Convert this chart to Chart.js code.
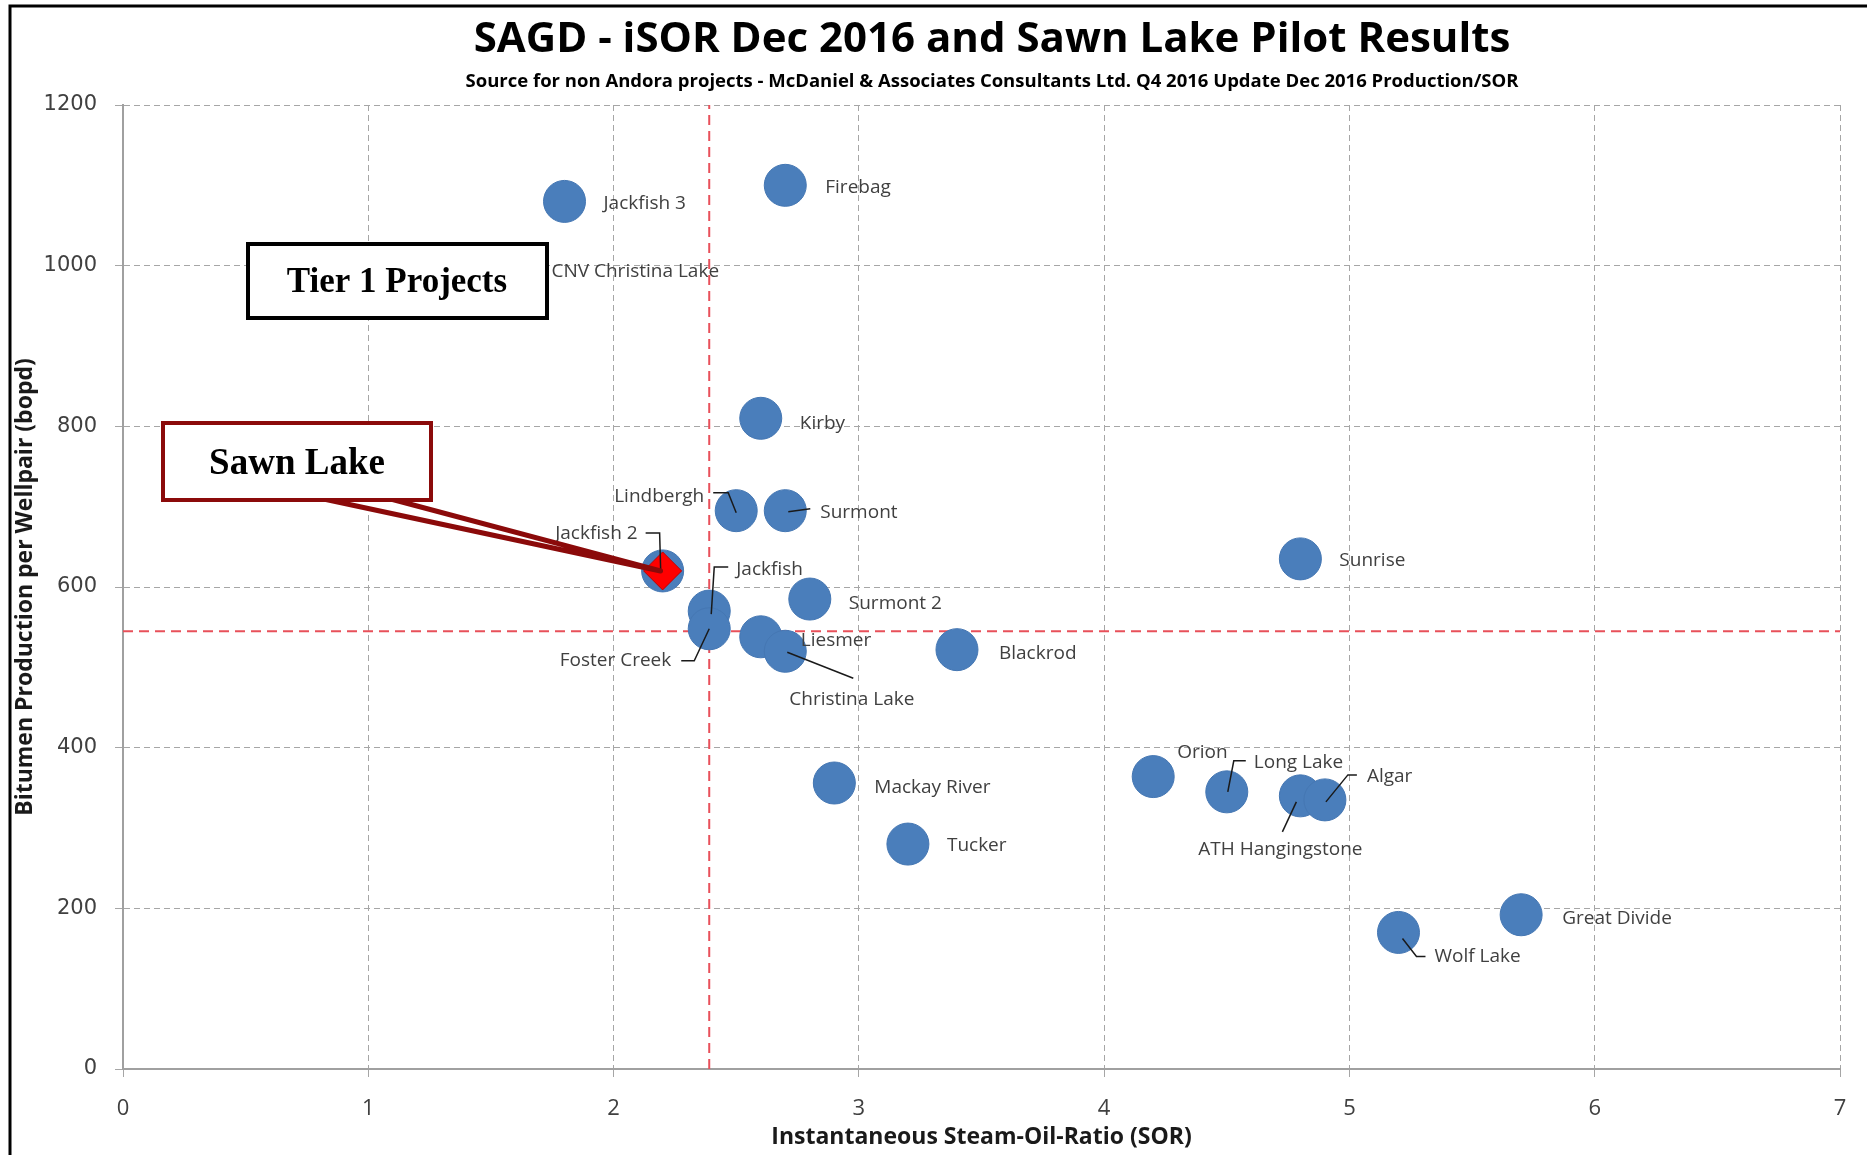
<!DOCTYPE html>
<html lang="en">
<head>
<meta charset="UTF-8">
<title>SAGD - iSOR Dec 2016 and Sawn Lake Pilot Results</title>
<script src="https://cdn.jsdelivr.net/npm/chart.js"></script>
<style>
  html, body { margin: 0; padding: 0; background: #fff; }
  canvas { display: block; }
</style>
</head>
<body>
<canvas id="sorChart" width="1867" height="1155"></canvas>
<script>
// project data
const projectNames = ['Jackfish 3', 'Firebag', 'CNV Christina Lake', 'Kirby', 'Lindbergh', 'Surmont',
  'Jackfish 2', 'Sunrise', 'Jackfish', 'Surmont 2', 'Foster Creek', 'Liesmer', 'Christina Lake',
  'Blackrod', 'Mackay River', 'Tucker', 'Orion', 'Long Lake', 'ATH Hangingstone', 'Algar',
  'Great Divide', 'Wolf Lake'];
const sorValues = [1.8, 2.7, 1.6, 2.6, 2.5, 2.7, 2.2, 4.8, 2.39, 2.8, 2.39, 2.6, 2.7,
  3.4, 2.9, 3.2, 4.2, 4.5, 4.8, 4.9, 5.7, 5.2];
const prodValues = [1080, 1100, 990, 810, 695, 695, 620, 635, 570, 585, 548, 538, 520,
  522, 356, 280, 364, 345, 340, 335, 192, 170];

const sawnLakeSor = [2.2];
const sawnLakeProd = [620];

// red dashed cut-off lines
const cutoffSor = 2.39;
const cutoffProd = 545;

const xRange = [0, 7];
const yRange = [0, 1200];

// where each data label sits relative to its bubble (px), plus leader lines
const labelLayout = {
  'Jackfish 3': { dx: 39, dy: 2 },
  'Firebag': { dx: 40, dy: 2 },
  'CNV Christina Lake': { dx: 36, dy: -2 },
  'Kirby': { dx: 39, dy: 5 },
  'Lindbergh': { dx: -32, dy: -14, align: 'right', leader: [[-23, -18], [-8, -18], [0, 2]] },
  'Surmont': { dx: 35, dy: 2, leader: [[25, -2], [3, 1]] },
  'Jackfish 2': { dx: -25, dy: -37, align: 'right', leader: [[-17, -38], [-3, -38], [-2, -2]] },
  'Sunrise': { dx: 39, dy: 2 },
  'Jackfish': { dx: 27, dy: -42, leader: [[19, -44], [5, -44], [2, 3]] },
  'Surmont 2': { dx: 39, dy: 5 },
  'Foster Creek': { dx: -38, dy: 32, align: 'right', leader: [[-28, 32], [-15, 32], [0, 0]] },
  'Liesmer': { dx: 40, dy: 4 },
  'Christina Lake': { dx: 4, dy: 48, leader: [[2, 1], [68, 27]] },
  'Blackrod': { dx: 42, dy: 4 },
  'Mackay River': { dx: 40, dy: 5 },
  'Tucker': { dx: 39, dy: 2 },
  'Orion': { dx: 24, dy: -24 },
  'Long Lake': { dx: 27, dy: -29, leader: [[19, -31], [7, -31], [1, 0]] },
  'ATH Hangingstone': { dx: -20, dy: 54, align: 'center', leader: [[-18, 36], [-4, 6]] },
  'Algar': { dx: 42, dy: -23, leader: [[32, -25], [23, -25], [1, 2]] },
  'Great Divide': { dx: 41, dy: 4 },
  'Wolf Lake': { dx: 36, dy: 24, leader: [[27, 24], [18, 24], [4, 6]] }
};

const projectPoints = projectNames.map((n, i) => ({ x: sorValues[i], y: prodValues[i] }));
const sawnPoints = sawnLakeSor.map((s, i) => ({ x: s, y: sawnLakeProd[i] }));

const labelFont = '19px "Open Sans"';
const gridGrey = '#a6a6a6';

const decorPlugin = {
  id: 'decor',
  beforeDraw(chart) {
    const ctx = chart.ctx;
    ctx.save();
    ctx.fillStyle = '#fff';
    ctx.fillRect(0, 0, chart.width, chart.height);
    ctx.restore();
  },
  afterDatasetsDraw(chart) {
    const ctx = chart.ctx;
    const meta = chart.getDatasetMeta(0);
    ctx.save();
    // leader lines + labels
    meta.data.forEach((pt, i) => {
      const name = projectNames[i];
      const lay = labelLayout[name];
      if (lay.leader) {
        ctx.beginPath();
        ctx.strokeStyle = '#1a1a1a';
        ctx.lineWidth = 1.5;
        lay.leader.forEach((p, k) => {
          if (k === 0) ctx.moveTo(pt.x + p[0], pt.y + p[1]);
          else ctx.lineTo(pt.x + p[0], pt.y + p[1]);
        });
        ctx.stroke();
      }
      ctx.font = labelFont;
      ctx.fillStyle = '#404040';
      ctx.textAlign = lay.align || 'left';
      ctx.textBaseline = 'middle';
      ctx.fillText(name, pt.x + lay.dx, pt.y + lay.dy);
    });

    // Sawn Lake callout
    const sx = chart.scales.x.getPixelForValue(sawnLakeSor[0]);
    const sy = chart.scales.y.getPixelForValue(sawnLakeProd[0]);
    ctx.beginPath();
    ctx.moveTo(319, 498);
    ctx.lineTo(sx - 2, sy);
    ctx.lineTo(387, 498);
    ctx.closePath();
    ctx.fillStyle = '#fff';
    ctx.fill();
    ctx.lineJoin = 'round';
    ctx.lineWidth = 5;
    ctx.strokeStyle = '#8b0a0a';
    ctx.stroke();

    // boxes
    ctx.lineJoin = 'miter';
    ctx.fillStyle = '#fff';
    ctx.fillRect(163, 423, 268, 77);
    ctx.strokeStyle = '#8b0a0a';
    ctx.lineWidth = 4;
    ctx.strokeRect(163, 423, 268, 77);
    ctx.fillRect(248, 244, 299, 74);
    ctx.strokeStyle = '#000';
    ctx.lineWidth = 4;
    ctx.strokeRect(248, 244, 299, 74);

    ctx.fillStyle = '#000';
    ctx.textAlign = 'center';
    ctx.textBaseline = 'middle';
    ctx.font = 'bold 37px "Liberation Serif"';
    ctx.fillText('Sawn Lake', 297, 464);
    ctx.font = 'bold 35px "Liberation Serif"';
    ctx.fillText('Tier 1 Projects', 397, 283);

    // titles
    ctx.fillStyle = '#000';
    ctx.font = 'bold 42px "Open Sans"';
    ctx.fillText('SAGD - iSOR Dec 2016 and Sawn Lake Pilot Results', 992, 40);
    ctx.font = 'bold 18.5px "Open Sans"';
    ctx.fillText('Source for non Andora projects - McDaniel & Associates Consultants Ltd. Q4 2016 Update Dec 2016 Production/SOR', 992, 82);

    // outer frame
    ctx.strokeStyle = '#000';
    ctx.lineWidth = 3;
    ctx.beginPath();
    ctx.moveTo(10, 1155);
    ctx.lineTo(10, 6);
    ctx.lineTo(1867, 6);
    ctx.stroke();
    ctx.restore();
  }
};

new Chart(document.getElementById('sorChart'), {
  type: 'scatter',
  data: {
    datasets: [
      {
        label: 'Projects',
        data: projectPoints,
        pointRadius: 21,
        pointHoverRadius: 21,
        backgroundColor: '#4a7ebb',
        borderColor: '#4577b3',
        borderWidth: 1,
        order: 1
      },
      {
        label: 'Sawn Lake',
        data: sawnPoints,
        pointStyle: 'rectRot',
        pointRadius: 19,
        backgroundColor: '#ff0000',
        borderColor: '#c00000',
        borderWidth: 1,
        order: 0
      },
      {
        label: 'SOR cut-off',
        type: 'line',
        data: [{ x: cutoffSor, y: yRange[0] }, { x: cutoffSor, y: yRange[1] }],
        borderColor: '#e8505a',
        borderWidth: 2,
        borderDash: [10, 6],
        pointRadius: 0,
        order: 2
      },
      {
        label: 'Production cut-off',
        type: 'line',
        data: [{ x: xRange[0], y: cutoffProd }, { x: xRange[1], y: cutoffProd }],
        borderColor: '#e8505a',
        borderWidth: 2,
        borderDash: [10, 6],
        pointRadius: 0,
        order: 2
      }
    ]
  },
  options: {
    responsive: false,
    animation: false,
    layout: { padding: { left: 0, right: 27, top: 105, bottom: 0 } },
    plugins: {
      legend: { display: false },
      tooltip: { enabled: false },
      title: { display: false }
    },
    scales: {
      x: {
        type: 'linear',
        min: xRange[0],
        max: xRange[1],
        ticks: { stepSize: 1, color: '#404040', font: { family: 'Open Sans', size: 22 }, padding: 19 },
        grid: { color: gridGrey, lineWidth: 1, tickLength: 8, tickColor: gridGrey },
        border: { display: true, color: '#a0a0a0', width: 2, dash: [6, 4] },
        title: {
          display: true,
          text: 'Instantaneous Steam-Oil-Ratio (SOR)',
          color: '#1a1a1a',
          font: { family: 'Open Sans', size: 23, weight: 'bold' },
          padding: { top: 0, bottom: 4 }
        },
        afterFit(scale) { scale.height = 86; }
      },
      y: {
        type: 'linear',
        min: yRange[0],
        max: yRange[1],
        ticks: {
          stepSize: 200, color: '#404040', font: { family: 'DejaVu Sans', size: 21 }, padding: 18,
          callback: v => String(v)
        },
        grid: { color: gridGrey, lineWidth: 1, tickLength: 8, tickColor: gridGrey },
        border: { display: true, color: '#a0a0a0', width: 2, dash: [6, 4] },
        title: {
          display: true,
          text: 'Bitumen Production per Wellpair (bopd)',
          color: '#1a1a1a',
          font: { family: 'Open Sans', size: 23, weight: 'bold' },
          padding: { top: 12, bottom: 0 }
        },
        afterFit(scale) { scale.width = 123; }
      }
    }
  },
  plugins: [decorPlugin]
});
</script>
</body>
</html>
